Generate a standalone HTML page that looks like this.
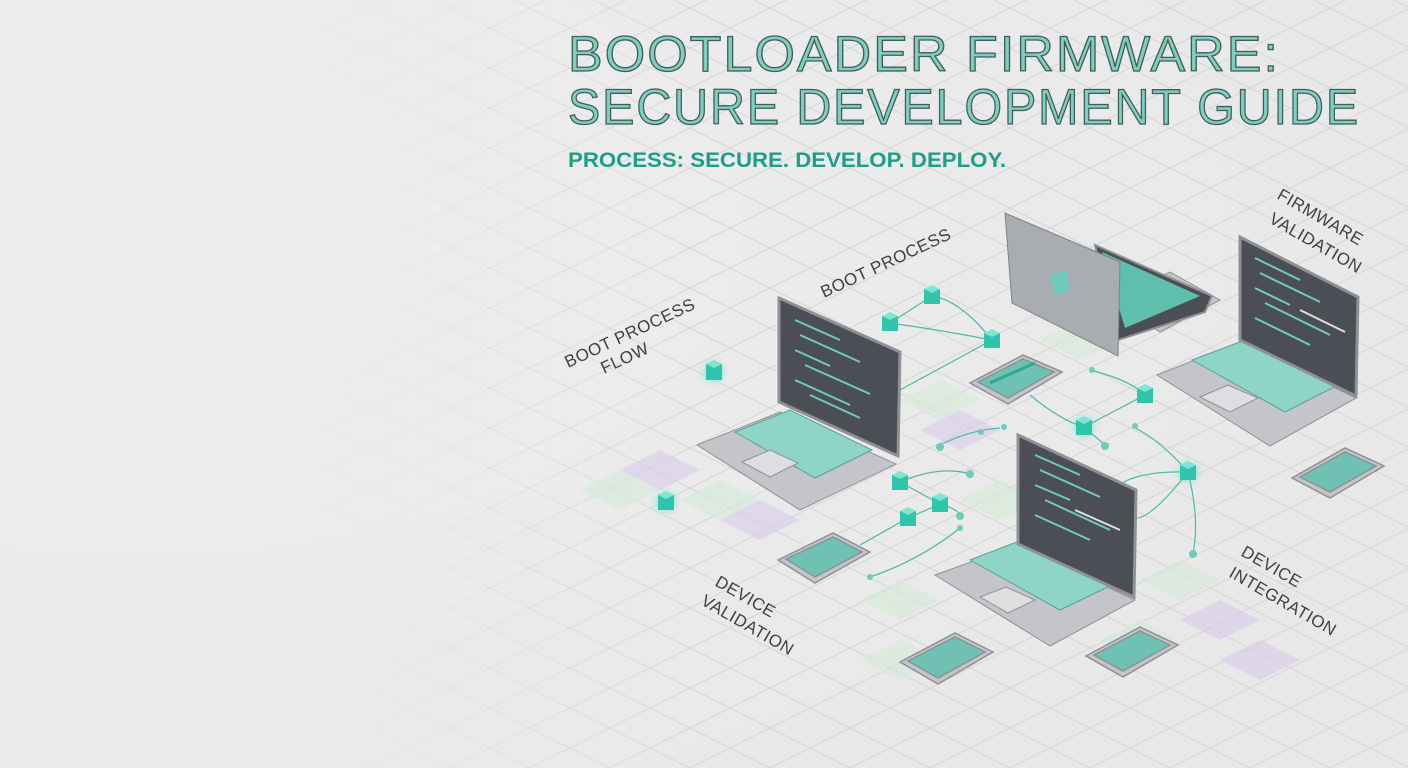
<!DOCTYPE html>
<html><head><meta charset="utf-8"><style>
html,body{margin:0;padding:0;width:1408px;height:768px;overflow:hidden;background:#ececec;}
svg{display:block}
.t{font-family:"Liberation Sans",sans-serif;}
</style></head><body>
<svg width="1408" height="768" viewBox="0 0 1408 768" xmlns="http://www.w3.org/2000/svg">
<defs>
<radialGradient id="bg" cx="0.1" cy="0.3" r="1"><stop offset="0" stop-color="#eeeeee"/><stop offset="1" stop-color="#e8e8e8"/></radialGradient>
<pattern id="grid" width="80" height="40" patternUnits="userSpaceOnUse" x="10" y="8">
<path d="M0 20 L40 0 L80 20 L40 40 Z" fill="none" stroke="#d6d6d6" stroke-width="1"/>
</pattern>
<linearGradient id="fade" x1="0" y1="0" x2="1" y2="0"><stop offset="0.22" stop-color="#fff" stop-opacity="0"/><stop offset="0.5" stop-color="#fff" stop-opacity="1"/></linearGradient>
<mask id="m"><rect width="1408" height="768" fill="url(#fade)"/></mask>
<filter id="glow" x="-1" y="-1" width="3" height="3"><feGaussianBlur stdDeviation="4"/></filter>
</defs>
<rect width="1408" height="768" fill="url(#bg)"/>
<rect width="1408" height="768" fill="url(#grid)" mask="url(#m)"/>
<g opacity="0.55">
<path d="M620 470 L660 450 L700 470 L660 490Z" fill="#d7c9ea"/>
<path d="M580 490 L620 470 L660 490 L620 510Z" fill="#d3ead6"/>
<path d="M720 520 L760 500 L800 520 L760 540Z" fill="#d7c9ea"/>
<path d="M680 500 L720 480 L760 500 L720 520Z" fill="#d3ead6"/>
<path d="M900 400 L940 380 L980 400 L940 420Z" fill="#d3ead6"/>
<path d="M920 430 L960 410 L1000 430 L960 450Z" fill="#d7c9ea"/>
<path d="M860 600 L900 580 L940 600 L900 620Z" fill="#d3ead6"/>
<path d="M860 660 L900 640 L940 660 L900 680Z" fill="#d3ead6"/>
<path d="M1180 620 L1220 600 L1260 620 L1220 640Z" fill="#d7c9ea"/>
<path d="M1220 660 L1260 640 L1300 660 L1260 680Z" fill="#d7c9ea"/>
<path d="M1140 580 L1180 560 L1220 580 L1180 600Z" fill="#d3ead6"/>
<path d="M1100 640 L1140 620 L1180 640 L1140 660Z" fill="#d3ead6"/>
<path d="M960 500 L1000 480 L1040 500 L1000 520Z" fill="#d3ead6"/>
<path d="M1040 340 L1080 320 L1120 340 L1080 360Z" fill="#d3ead6"/>
</g>
<g fill="none" stroke="#4fb8a4" stroke-width="1.2">
<path d="M890 323 L932 296 Q960 300 992 340"/>
<path d="M890 323 Q940 330 992 340"/>
<path d="M992 340 L900 390"/>
<path d="M940 445 Q970 430 1000 428"/>
<path d="M1030 395 Q1060 420 1084 427 L1105 445"/>
<path d="M1084 427 L1145 395"/>
<path d="M1090 370 Q1130 380 1145 395"/>
<path d="M1188 472 Q1160 440 1135 428"/>
<path d="M1188 472 Q1200 520 1193 553"/>
<path d="M1188 472 Q1120 470 1105 500"/>
<path d="M1188 472 Q1150 520 1135 518"/>
<path d="M900 482 L940 504 L908 518"/>
<path d="M900 482 Q940 465 970 474"/>
<path d="M940 504 Q960 510 960 516"/>
<path d="M908 518 L860 545"/>
<path d="M870 577 Q920 560 960 528"/>
</g>
<g fill="#6fcbbb">
<circle cx="940" cy="447" r="4"/><circle cx="981" cy="432" r="3"/><circle cx="1004" cy="427" r="3"/>
<circle cx="1105" cy="446" r="4"/><circle cx="1092" cy="370" r="3"/><circle cx="1135" cy="426" r="3"/>
<circle cx="1193" cy="554" r="4"/><circle cx="970" cy="474" r="4"/><circle cx="960" cy="516" r="4"/>
<circle cx="960" cy="528" r="3"/><circle cx="870" cy="577" r="3"/>
</g>
<g>
<g transform="translate(714,372)"><circle r="10" fill="#4fe0c8" opacity="0.5" filter="url(#glow)"/><rect x="-8" y="-8" width="16" height="16" fill="#2fc4ab"/><path d="M-8 -8 L0 -12 L8 -8 L0 -4Z" fill="#7fe6d4"/></g>
<g transform="translate(666,502)"><circle r="10" fill="#4fe0c8" opacity="0.5" filter="url(#glow)"/><rect x="-8" y="-7" width="16" height="15" fill="#2fc4ab"/><path d="M-8 -7 L0 -11 L8 -7 L0 -3Z" fill="#7fe6d4"/></g>
<g transform="translate(890,323)"><rect x="-8" y="-7" width="16" height="15" fill="#2fc4ab"/><path d="M-8 -7 L0 -11 L8 -7 L0 -3Z" fill="#7fe6d4"/></g>
<g transform="translate(932,296)"><rect x="-8" y="-7" width="16" height="15" fill="#2fc4ab"/><path d="M-8 -7 L0 -11 L8 -7 L0 -3Z" fill="#7fe6d4"/></g>
<g transform="translate(992,340)"><rect x="-8" y="-7" width="16" height="15" fill="#2fc4ab"/><path d="M-8 -7 L0 -11 L8 -7 L0 -3Z" fill="#7fe6d4"/></g>
<g transform="translate(1084,427)"><circle r="10" fill="#4fe0c8" opacity="0.5" filter="url(#glow)"/><rect x="-8" y="-7" width="16" height="15" fill="#2fc4ab"/><path d="M-8 -7 L0 -11 L8 -7 L0 -3Z" fill="#7fe6d4"/></g>
<g transform="translate(1145,395)"><rect x="-8" y="-7" width="16" height="15" fill="#2fc4ab"/><path d="M-8 -7 L0 -11 L8 -7 L0 -3Z" fill="#7fe6d4"/></g>
<g transform="translate(1188,472)"><circle r="10" fill="#4fe0c8" opacity="0.5" filter="url(#glow)"/><rect x="-8" y="-7" width="16" height="15" fill="#2fc4ab"/><path d="M-8 -7 L0 -11 L8 -7 L0 -3Z" fill="#7fe6d4"/></g>
<g transform="translate(900,482)"><rect x="-8" y="-7" width="16" height="15" fill="#2fc4ab"/><path d="M-8 -7 L0 -11 L8 -7 L0 -3Z" fill="#7fe6d4"/></g>
<g transform="translate(940,504)"><rect x="-8" y="-7" width="16" height="15" fill="#2fc4ab"/><path d="M-8 -7 L0 -11 L8 -7 L0 -3Z" fill="#7fe6d4"/></g>
<g transform="translate(908,518)"><rect x="-8" y="-7" width="16" height="15" fill="#2fc4ab"/><path d="M-8 -7 L0 -11 L8 -7 L0 -3Z" fill="#7fe6d4"/></g>
</g>
<!-- laptop back (top) -->
<g>
<path d="M1110 300 L1170 272 L1220 300 L1160 332 Z" fill="#c3c5c9" stroke="#8e9196"/>
<path d="M1120 305 L1165 283 L1200 300 L1155 324Z" fill="#d8dadc"/>
<path d="M1095 245 L1212 296 L1205 312 L1118 340 Z" fill="#4b4e55" stroke="#8e9196" stroke-width="2"/>
<path d="M1102 252 L1200 296 L1125 328 Z" fill="#5fbfad"/>
<path d="M1005 213 L1120 262 L1118 356 L1012 303 Z" fill="#a9acb1" stroke="#7f8287"/>
<path d="M1050 275 L1066 270 L1070 290 L1055 296Z" fill="#6fcbbb"/>
</g>
<g>
<path d="M697 445 L780 412 L896 464 L800 510 Z" fill="#c3c5c9" stroke="#8e9196"/>
<path d="M735 432 L790 410 L872 450 L815 478Z" fill="#8fd5c7" stroke="#5a9f94"/>
<path d="M742 462 L770 450 L798 463 L770 477Z" fill="#dcdee0" stroke="#8e9196"/>
<path d="M779 298 L900 352 L898 456 L779 402 Z" fill="#4b4e55" stroke="#8e9196" stroke-width="3"/>
<g stroke="#6fcbbb" stroke-width="2"><path d="M795 320 L840 340"/><path d="M800 335 L860 362"/><path d="M795 350 L830 366"/><path d="M805 365 L870 394"/><path d="M795 380 L850 405"/><path d="M810 395 L860 418"/></g>
</g>
<g>
<path d="M935 575 L1018 545 L1135 600 L1050 646 Z" fill="#c3c5c9" stroke="#8e9196"/>
<path d="M970 560 L1022 540 L1112 585 L1060 610Z" fill="#8fd5c7" stroke="#5a9f94"/>
<path d="M980 597 L1006 587 L1035 600 L1008 613Z" fill="#dcdee0" stroke="#8e9196"/>
<path d="M1018 435 L1136 490 L1134 597 L1018 544 Z" fill="#4b4e55" stroke="#8e9196" stroke-width="3"/>
<g stroke="#6fcbbb" stroke-width="2"><path d="M1035 455 L1080 475"/><path d="M1040 470 L1100 497"/><path d="M1035 485 L1070 500"/><path d="M1045 500 L1110 530"/><path d="M1035 515 L1090 540"/></g>
<path d="M1075 510 L1120 530" stroke="#e0e0e0" stroke-width="2"/>
</g>
<g>
<path d="M1157 375 L1240 342 L1356 398 L1270 446 Z" fill="#c3c5c9" stroke="#8e9196"/>
<path d="M1192 360 L1245 340 L1340 384 L1285 412Z" fill="#8fd5c7" stroke="#5a9f94"/>
<path d="M1200 397 L1228 385 L1258 398 L1230 412Z" fill="#dcdee0" stroke="#8e9196"/>
<path d="M1240 237 L1358 297 L1356 396 L1240 340 Z" fill="#4b4e55" stroke="#8e9196" stroke-width="3"/>
<g stroke="#6fcbbb" stroke-width="2"><path d="M1255 258 L1300 280"/><path d="M1260 273 L1320 302"/><path d="M1255 288 L1290 305"/><path d="M1265 303 L1330 335"/><path d="M1255 318 L1310 345"/></g>
<path d="M1300 310 L1345 332" stroke="#e0e0e0" stroke-width="2"/>
</g>
<g stroke="#8e9196" stroke-width="1.5">
<path d="M778 560 L833 533 L870 552 L815 583 Z" fill="#c3c5c9"/><path d="M786 559 L833 537 L862 552 L815 577 Z" fill="#6ec1b3"/>
<path d="M900 662 L955 633 L993 652 L938 684 Z" fill="#c3c5c9"/><path d="M908 661 L955 637 L985 652 L938 678 Z" fill="#6ec1b3"/>
<path d="M1086 656 L1140 627 L1178 645 L1123 677 Z" fill="#c3c5c9"/><path d="M1094 655 L1140 631 L1170 645 L1123 671 Z" fill="#6ec1b3"/>
<path d="M1292 478 L1345 448 L1384 466 L1330 498 Z" fill="#c3c5c9"/><path d="M1300 477 L1345 452 L1376 466 L1330 492 Z" fill="#6ec1b3"/>
<path d="M970 383 L1023 355 L1062 372 L1008 404 Z" fill="#c3c5c9"/><path d="M978 382 L1023 359 L1054 372 L1008 398 Z" fill="#6ec1b3"/>
</g>
<path d="M990 383 L1035 363" stroke="#2fa890" stroke-width="3"/>
<g class="t" fill="#3d4148" font-size="17" letter-spacing="0.5">
<text transform="translate(568,368) rotate(-25)">BOOT PROCESS</text>
<text transform="translate(604,374) rotate(-25)">FLOW</text>
<text transform="translate(824,298) rotate(-25)">BOOT PROCESS</text>
<text transform="translate(1276,198) rotate(30)">FIRMWARE</text>
<text transform="translate(1268,222) rotate(30)">VALIDATION</text>
<text transform="translate(714,585) rotate(30)">DEVICE</text>
<text transform="translate(700,604) rotate(30)">VALIDATION</text>
<text transform="translate(1240,555) rotate(30)">DEVICE</text>
<text transform="translate(1228,576) rotate(30)">INTEGRATION</text>
</g>
<g class="t" font-size="50" fill="#82cdc1" stroke="#3e5e5a" stroke-width="1.3" letter-spacing="2">
<text x="568" y="71" textLength="712" lengthAdjust="spacingAndGlyphs">BOOTLOADER FIRMWARE:</text>
<text x="568" y="124" textLength="792" lengthAdjust="spacingAndGlyphs">SECURE DEVELOPMENT GUIDE</text>
</g>
<text class="t" x="568" y="167" font-size="21" font-weight="bold" fill="#1e9e86" textLength="438" lengthAdjust="spacingAndGlyphs">PROCESS: SECURE. DEVELOP. DEPLOY.</text>
</svg>
</body></html>
